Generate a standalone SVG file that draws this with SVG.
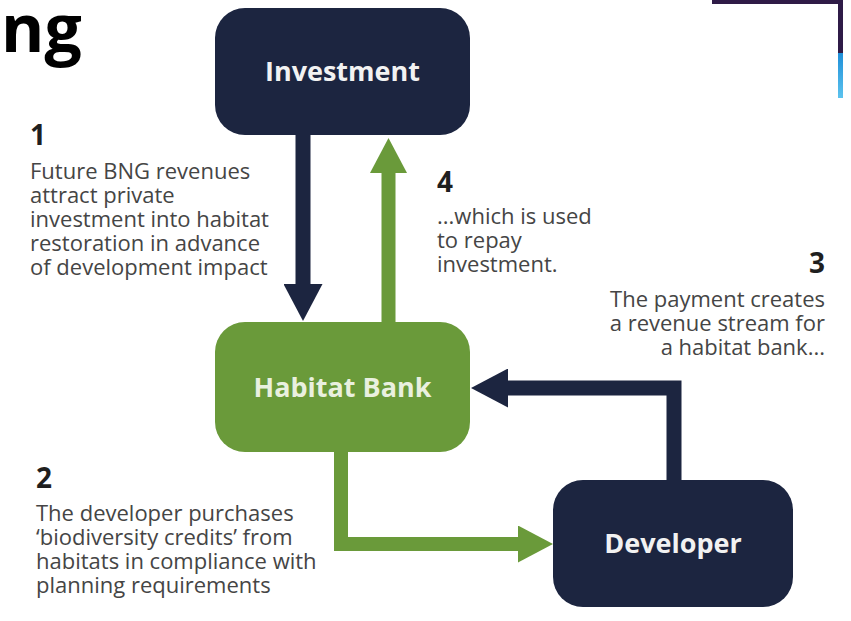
<svg xmlns="http://www.w3.org/2000/svg" width="851" height="621" viewBox="0 0 851 621">
<defs>
<style>
.node-navy{fill:#1c2540}
.node-green{fill:#6a9a3a}
.lbl{font-family:"Open Sans","Liberation Sans",sans-serif;font-weight:bold;font-size:27px;text-anchor:middle}
.body{font-family:"Open Sans","Liberation Sans",sans-serif;font-size:22px;fill:#454545}
.num{font-family:"Open Sans","Liberation Sans",sans-serif;font-weight:bold;font-size:28px;fill:#1f1f1f}
.c-navy{fill:none;stroke:#1c2540;stroke-width:15}
.c-green{fill:none;stroke:#6a9a3a;stroke-width:14}
</style>
<marker id="hn" markerUnits="userSpaceOnUse" markerWidth="37" markerHeight="39" refX="0" refY="19.5" orient="auto"><path d="M0,0 L37,19.5 L0,39 z" fill="#1c2540"/></marker>
<marker id="hg" markerUnits="userSpaceOnUse" markerWidth="35" markerHeight="37" refX="0" refY="18.5" orient="auto"><path d="M0,0 L35,18.5 L0,37 z" fill="#6a9a3a"/></marker>
<linearGradient id="blue" x1="0" y1="0" x2="0" y2="1"><stop offset="0" stop-color="#1f8fd8"/><stop offset="1" stop-color="#5cc3ee"/></linearGradient>
</defs>
<rect width="851" height="621" fill="#ffffff"/>
<!-- top-right decoration -->
<rect x="712" y="0" width="131" height="4" fill="#2f1b47"/>
<rect x="838" y="0" width="5" height="53" fill="#2f1b47"/>
<rect x="838" y="53" width="5" height="45" fill="url(#blue)"/>
<!-- title fragment -->
<text x="1" y="52" style="font-family:'Open Sans','Liberation Sans',sans-serif;font-weight:bold;font-size:66px;fill:#000">ng</text>
<g id="connectors">
<path class="c-navy" d="M303,135 L303,284" marker-end="url(#hn)"/>
<path class="c-green" d="M388.5,322 L388.5,173" marker-end="url(#hg)"/>
<path class="c-navy" d="M674,480 L674,388 L508,388" marker-end="url(#hn)"/>
<path class="c-green" d="M341,452 L341,544 L518,544" marker-end="url(#hg)"/>
</g>
<g id="investment">
<rect class="node-navy" x="215" y="8" width="255" height="127" rx="30"/>
<text class="lbl" x="342.5" y="81" fill="#f2f2f2">Investment</text>
</g>
<g id="habitat-bank">
<rect class="node-green" x="215" y="322" width="255" height="130" rx="30"/>
<text class="lbl" x="342.5" y="397" fill="#e9f0df">Habitat Bank</text>
</g>
<g id="developer">
<rect class="node-navy" x="553" y="480" width="240" height="127" rx="30"/>
<text class="lbl" x="673" y="553" fill="#f2f2f2">Developer</text>
</g>
<g id="note1">
<text class="num" x="30" y="145">1</text>
<text class="body" x="30" y="179">Future BNG revenues</text>
<text class="body" x="30" y="203">attract private</text>
<text class="body" x="30" y="227">investment into habitat</text>
<text class="body" x="30" y="251">restoration in advance</text>
<text class="body" x="30" y="275">of development impact</text>
</g>
<g id="note4">
<text class="num" x="437" y="192">4</text>
<text class="body" x="437" y="224">...which is used</text>
<text class="body" x="437" y="248">to repay</text>
<text class="body" x="437" y="272">investment.</text>
</g>
<g id="note3">
<text class="num" x="825" y="273" text-anchor="end">3</text>
<text class="body" x="825" y="307" text-anchor="end">The payment creates</text>
<text class="body" x="825" y="331" text-anchor="end">a revenue stream for</text>
<text class="body" x="825" y="355" text-anchor="end">a habitat bank...</text>
</g>
<g id="note2">
<text class="num" x="36" y="488">2</text>
<text class="body" x="36" y="521">The developer purchases</text>
<text class="body" x="36" y="545">‘biodiversity credits’ from</text>
<text class="body" x="36" y="569">habitats in compliance with</text>
<text class="body" x="36" y="593">planning requirements</text>
</g>
</svg>
